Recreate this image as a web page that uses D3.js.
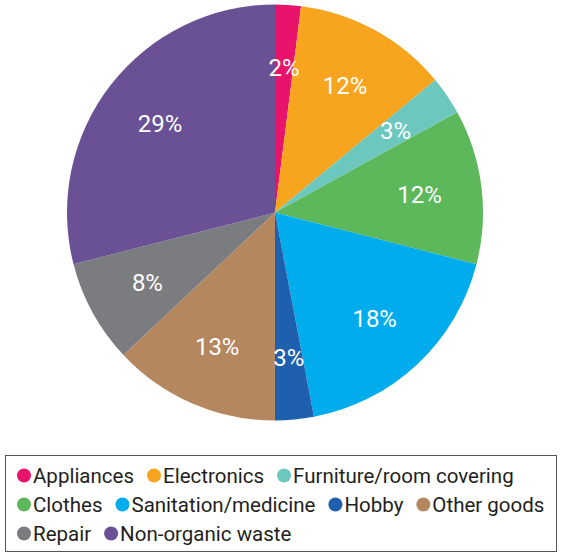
<!DOCTYPE html>
<html>
<head>
<meta charset="utf-8">
<script src="https://cdn.jsdelivr.net/npm/d3@7"></script>
<style>
  html, body { margin: 0; padding: 0; background: #fff; }
  svg { display: block; }
</style>
</head>
<body>
<svg id="chart" width="563" height="556"></svg>
<script>
// Share of each category, in percent
const categories = ["Appliances", "Electronics", "Furniture/room covering", "Clothes",
  "Sanitation/medicine", "Hobby", "Other goods", "Repair", "Non-organic waste"];
const shares = [2, 12, 3, 12, 18, 3, 13, 8, 29];
const colors = ["#e8146b", "#f7a51f", "#6cc8be", "#5cb85a", "#00acec",
  "#1e5fae", "#b5875f", "#7a7c7f", "#6a5195"];
// Number of legend entries on each legend line
const legendRowSizes = [3, 4, 2];

const svg = d3.select("#chart");
const font = "Roboto, 'Liberation Sans', sans-serif";

const cx = 275, cy = 212.5, radius = 208;

const color = d3.scaleOrdinal().domain(categories).range(colors);
const data = categories.map((c, i) => ({ category: c, value: shares[i] }));

const pie = d3.pie().value(d => d.value).sort(null);
const arc = d3.arc().innerRadius(0).outerRadius(radius);
const labelArc = d3.arc().innerRadius(radius * 0.7).outerRadius(radius * 0.7);

const g = svg.append("g").attr("transform", `translate(${cx},${cy})`);
const arcs = pie(data);

g.selectAll("path.slice")
  .data(arcs)
  .join("path")
  .attr("class", "slice")
  .attr("d", arc)
  .attr("fill", d => color(d.data.category));

g.selectAll("text.pct")
  .data(arcs)
  .join("text")
  .attr("class", "pct")
  .attr("transform", d => `translate(${labelArc.centroid(d)})`)
  .attr("text-anchor", "middle")
  .attr("dy", "0.36em")
  .attr("fill", "#fff")
  .attr("font-family", font)
  .attr("font-size", 24)
  .text(d => d.data.value + "%");

// Legend box with rows of swatches
const box = { x: 5.5, y: 455.5, w: 551, h: 96 };
svg.append("rect")
  .attr("x", box.x).attr("y", box.y)
  .attr("width", box.w).attr("height", box.h)
  .attr("fill", "#fff")
  .attr("stroke", "#555")
  .attr("stroke-width", 1);

const legend = svg.append("g");
const rowBaselines = [483, 512, 541];
const startX = 17;
let idx = 0;
legendRowSizes.forEach((n, row) => {
  let x = startX;
  const base = rowBaselines[row];
  categories.slice(idx, idx + n).forEach(c => {
    const item = legend.append("g");
    item.append("circle")
      .attr("cx", x + 7).attr("cy", base - 7.5)
      .attr("r", 7)
      .attr("fill", color(c));
    const t = item.append("text")
      .attr("x", x + 16).attr("y", base)
      .attr("font-family", font)
      .attr("font-size", 20.5)
      .attr("fill", "#231f20")
      .text(c);
    x += 16 + t.node().getComputedTextLength() + 13;
  });
  idx += n;
});
</script>
</body>
</html>
